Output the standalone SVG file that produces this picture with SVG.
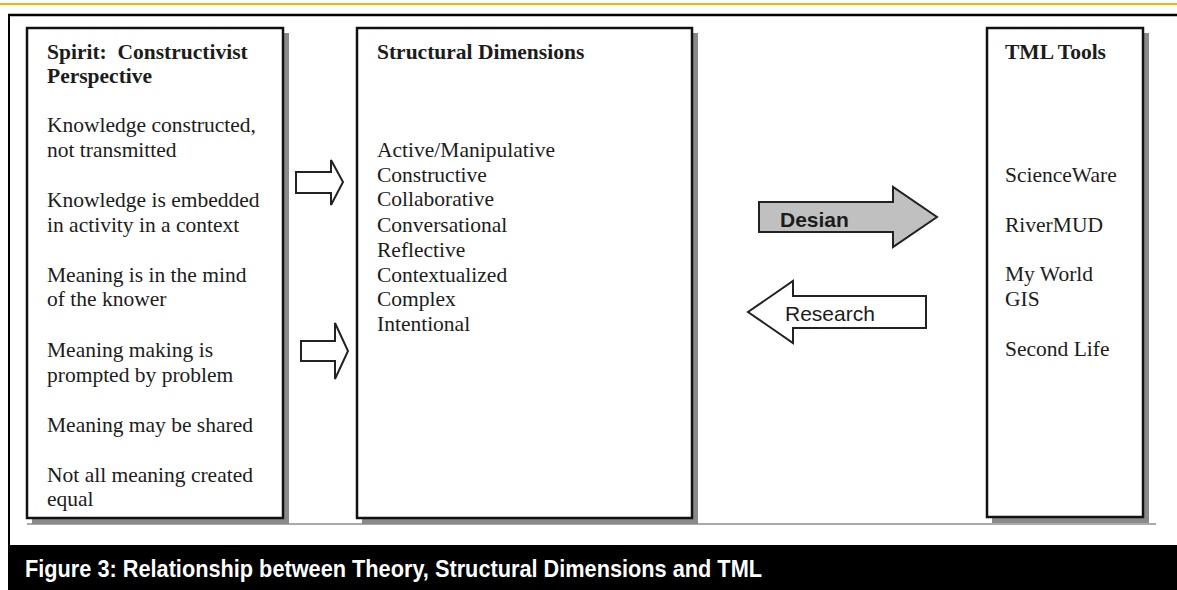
<svg xmlns="http://www.w3.org/2000/svg" width="1177" height="590" viewBox="0 0 1177 590">
<style>
.box{fill:#fff;stroke:#111;stroke-width:2.5}
.shadow{fill:#8a8a8a}
.t{font-family:"Liberation Serif","Times New Roman",serif;font-size:21.5px;fill:#1c1c1c}
.b{font-weight:bold}
.arr{stroke:#222;stroke-width:2;stroke-linejoin:miter}
.lbl{font-family:"Liberation Sans",Arial,sans-serif;font-size:21px;fill:#1c1c1c}
</style>
<rect width="1177" height="590" fill="#fff"/>
<line x1="0" y1="4" x2="1177" y2="4" stroke="#f5b400" stroke-width="2"/>
<line x1="8" y1="15" x2="1177" y2="15" stroke="#000" stroke-width="2.5"/>
<line x1="9" y1="14" x2="9" y2="545" stroke="#000" stroke-width="2"/>
<line x1="27" y1="524" x2="1156" y2="524" stroke="#555" stroke-width="1"/>

<g id="theory">
<rect class="shadow" x="32" y="33" width="257" height="491"/>
<rect class="box" x="27" y="28" width="256" height="490"/>
<text class="t b" x="47" y="59" xml:space="preserve">Spirit:  Constructivist</text>
<text class="t b" x="47" y="83">Perspective</text>
<text class="t" x="47" y="132">Knowledge constructed,</text>
<text class="t" x="47" y="157">not transmitted</text>
<text class="t" x="47" y="207">Knowledge is embedded</text>
<text class="t" x="47" y="232">in activity in a context</text>
<text class="t" x="47" y="282">Meaning is in the mind</text>
<text class="t" x="47" y="306">of the knower</text>
<text class="t" x="47" y="357">Meaning making is</text>
<text class="t" x="47" y="382">prompted by problem</text>
<text class="t" x="47" y="432">Meaning may be shared</text>
<text class="t" x="47" y="482">Not all meaning created</text>
<text class="t" x="47" y="506">equal</text>
</g>

<g id="structural">
<rect class="shadow" x="362" y="33" width="336" height="491"/>
<rect class="box" x="357" y="28" width="335" height="490"/>
<text class="t b" x="377" y="59">Structural Dimensions</text>
<text class="t" x="377" y="157">Active/Manipulative</text>
<text class="t" x="377" y="182">Constructive</text>
<text class="t" x="377" y="206">Collaborative</text>
<text class="t" x="377" y="232">Conversational</text>
<text class="t" x="377" y="257">Reflective</text>
<text class="t" x="377" y="282">Contextualized</text>
<text class="t" x="377" y="306">Complex</text>
<text class="t" x="377" y="331">Intentional</text>
</g>

<g id="tools">
<rect class="shadow" x="992" y="33" width="157" height="490"/>
<rect class="box" x="987" y="28" width="156" height="489"/>
<text class="t b" x="1005" y="59">TML Tools</text>
<text class="t" x="1005" y="182">ScienceWare</text>
<text class="t" x="1005" y="232">RiverMUD</text>
<text class="t" x="1005" y="281">My World</text>
<text class="t" x="1005" y="306">GIS</text>
<text class="t" x="1005" y="356">Second Life</text>
</g>

<g id="connectors">
<polygon class="arr" fill="#fff" points="296,172 331,172 331,160 343,182 331,205 331,193 296,193"/>
<polygon class="arr" fill="#fff" points="301,341 335,341 335,323 348,351 335,379 335,361 301,361"/>
<g id="design">
<polygon class="arr" fill="#c0c0c0" points="759,202 893,202 893,187 937,217 893,247 893,232 759,232"/>
<text class="lbl" x="780" y="227" font-weight="bold">Desian</text>
</g>
<g id="research">
<polygon class="arr" fill="#fff" points="926,296 793,296 793,281 748,312 793,343 793,328 926,328"/>
<text class="lbl" x="785" y="321">Research</text>
</g>
</g>

<g id="caption">
<rect x="8" y="545" width="1169" height="45" fill="#000"/>
<text x="25" y="577" font-family="'Liberation Sans',Arial,sans-serif" font-size="23" font-weight="bold" fill="#fff" textLength="737" lengthAdjust="spacingAndGlyphs">Figure 3: Relationship between Theory, Structural Dimensions and TML</text>
</g>
</svg>
